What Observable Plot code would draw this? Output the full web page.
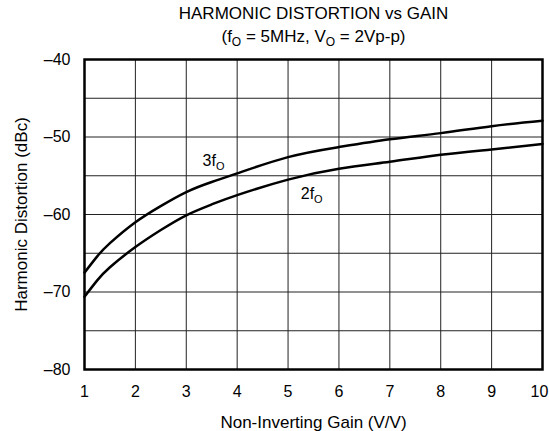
<!DOCTYPE html>
<html>
<head>
<meta charset="utf-8">
<script src="https://cdn.jsdelivr.net/npm/d3@7"></script>
<script src="https://cdn.jsdelivr.net/npm/@observablehq/plot@0.6"></script>
<style>
  html, body { margin: 0; padding: 0; background: #fff; }
  body { width: 549px; height: 431px; overflow: hidden; font-family: "Liberation Sans", Arial, sans-serif; color: #000; }
  #titles { margin-left: 84px; width: 459px; height: 50px; text-align: center; padding-top: 2px; box-sizing: border-box; }
  #titles div { font-size: 17px; line-height: 23px; white-space: nowrap; }
  .sub { font-size: 12px; position: relative; top: 4px; line-height: 0; }
</style>
</head>
<body>
<div id="titles">
  <div>HARMONIC DISTORTION vs GAIN</div>
  <div>(f<span class="sub">O</span> = 5MHz, V<span class="sub">O</span> = 2Vp-p)</div>
</div>
<div id="chart"></div>
<script>
// Data
const gain = [1, 1.25, 1.5, 2, 2.5, 3, 3.5, 4, 5, 6, 7, 8, 9, 10];
const hd3 = [-67.5, -65.4, -63.7, -61.0, -58.9, -57.1, -55.8, -54.7, -52.6, -51.3, -50.3, -49.5, -48.6, -47.9];
const hd2 = [-70.6, -68.5, -66.8, -64.2, -62.0, -60.1, -58.7, -57.5, -55.5, -54.1, -53.2, -52.3, -51.6, -50.9];
const xTicks = [1, 2, 3, 4, 5, 6, 7, 8, 9, 10];
const yTicks = [-80, -70, -60, -50, -40];
const yGrid = [-75, -70, -65, -60, -55, -50, -45];
const xGrid = [2, 3, 4, 5, 6, 7, 8, 9];
const seriesLabels = ["3f", "2f"];
const labelGain = [3.32, 5.25];
const labelValue = [-53.7, -58.0];

const rows3 = gain.map((g, i) => ({g, v: hd3[i]}));
const rows2 = gain.map((g, i) => ({g, v: hd2[i]}));
const labels = seriesLabels.map((t, i) => ({t, g: labelGain[i], v: labelValue[i]}));

const plot = Plot.plot({
  width: 549,
  height: 381,
  marginTop: 9,
  marginBottom: 62,
  marginLeft: 84,
  marginRight: 7,
  style: {fontFamily: "Liberation Sans, Arial, sans-serif", fontSize: "16px", color: "#000", background: "#fff", overflow: "visible"},
  x: {domain: [1, 10]},
  y: {domain: [-80, -40]},
  marks: [
    Plot.ruleX(xGrid, {stroke: "#222", strokeWidth: 1}),
    Plot.ruleY(yGrid, {stroke: "#222", strokeWidth: 1}),
    Plot.line(rows3, {x: "g", y: "v", stroke: "#000", strokeWidth: 2.5, curve: "natural"}),
    Plot.line(rows2, {x: "g", y: "v", stroke: "#000", strokeWidth: 2.5, curve: "natural"}),
    Plot.frame({stroke: "#000", strokeWidth: 2.5}),
    Plot.axisX({ticks: xTicks, tickSize: 0, tickPadding: 16, fontSize: 16, label: null, className: "xticks"}),
    Plot.axisY({ticks: yTicks, tickSize: 0, tickPadding: 14, fontSize: 16, label: null, tickFormat: d => (d < 0 ? "\u2013" : "") + Math.abs(d)}),
    Plot.text(["Non-Inverting Gain (V/V)"], {frameAnchor: "bottom", dy: 53, fontSize: 17, lineAnchor: "middle"}),
    Plot.text(["Harmonic Distortion (dBc)"], {frameAnchor: "left", dx: -63, rotate: -90, fontSize: 17, textAnchor: "middle", lineAnchor: "middle"}),
    Plot.text(labels, {x: "g", y: "v", text: "t", textAnchor: "start", lineAnchor: "bottom", fontSize: 16, className: "curve-label"})
  ]
});

document.getElementById("chart").appendChild(plot);

// keep the last x tick label ("10") inside the picture
const xt = d3.select(plot).selectAll(".xticks text").nodes();
if (xt.length) d3.select(xt[xt.length - 1]).attr("dx", -3);

// add subscript O to curve labels
d3.select(plot).selectAll(".curve-label text").each(function() {
  const t = d3.select(this);
  const s = t.text();
  t.text(null);
  t.append("tspan").text(s);
  t.append("tspan").attr("dy", "4").attr("font-size", "11").text("O");
});
</script>
</body>
</html>
